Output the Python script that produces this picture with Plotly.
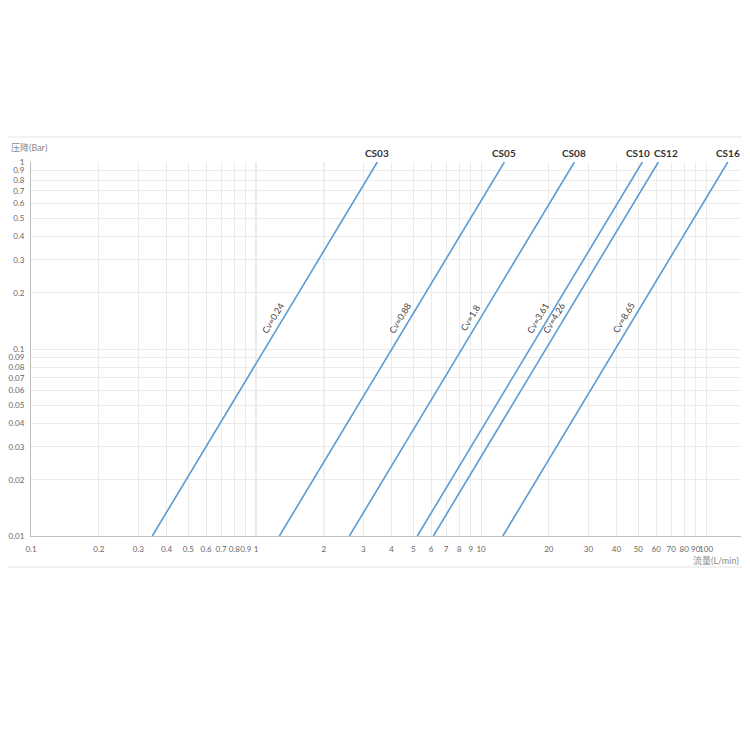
import plotly.graph_objects as go
import numpy as np

# Flow (L/min) at the two ends of each line
MODELS = ['CS03', 'CS05', 'CS08', 'CS10', 'CS12', 'CS16']
CV = ['0.24', '0.88', '1.8', '3.61', '4.26', '8.65']
DP_ENDS = [0.01, 1.0]            # pressure drop (bar)
FLOW_LOW = [0.346, 1.27, 2.60, 5.21, 6.14, 12.5]
FLOW_HIGH = [3.46, 12.7, 26.0, 52.1, 61.4, 125.0]
LABEL_DP = 0.14                  # where the Cv label sits on each line

X_TICKS = [0.1, 0.2, 0.3, 0.4, 0.5, 0.6, 0.7, 0.8, 0.9, 1, 2, 3, 4, 5, 6, 7, 8, 9,
           10, 20, 30, 40, 50, 60, 70, 80, 90, 100]
Y_TICKS = [0.01, 0.02, 0.03, 0.04, 0.05, 0.06, 0.07, 0.08, 0.09,
           0.1, 0.2, 0.3, 0.4, 0.5, 0.6, 0.7, 0.8, 0.9, 1]
X_MAJOR = [1, 10, 100]
Y_MAJOR = [0.1]

# small horizontal nudges so the crowded model names don't collide
NAME_NUDGE = {'CS10': -4, 'CS12': 8}

LINE_COLOR = '#5b9bd5'
FONT = 'Lato, Open Sans, Noto Sans CJK SC, sans-serif'

fig = go.Figure()

for name, cv, q0, q1 in zip(MODELS, CV, FLOW_LOW, FLOW_HIGH):
    fig.add_trace(go.Scatter(
        x=[q0, q1], y=DP_ENDS,
        mode='lines',
        line=dict(color=LINE_COLOR, width=1.6),
        name=name,
        hoverinfo='skip'
    ))
    # model name above the top end of the line
    fig.add_annotation(
        x=np.log10(q1), y=0, xref='x', yref='y',
        text=f'<b>{name}</b>', showarrow=False,
        xanchor='center', yanchor='bottom', yshift=1,
        xshift=NAME_NUDGE.get(name, 0),
        font=dict(size=10, color='#333333', family=FONT)
    )
    # Cv label rotated along the line
    t = (np.log10(LABEL_DP) - np.log10(DP_ENDS[0])) / (np.log10(DP_ENDS[1]) - np.log10(DP_ENDS[0]))
    lx = np.log10(q0) + t * (np.log10(q1) - np.log10(q0))
    fig.add_annotation(
        x=lx, y=np.log10(LABEL_DP), xref='x', yref='y',
        text=f'Cv={cv}', showarrow=False, textangle=-59,
        xanchor='center', yanchor='middle', xshift=-8, yshift=4,
        font=dict(size=9, color='#404040', family=FONT)
    )

# slightly darker major grid lines
for v in X_MAJOR:
    fig.add_shape(type='line', xref='x', yref='paper', x0=np.log10(v), x1=np.log10(v),
                  y0=0, y1=1, line=dict(color='#d4d4d4', width=1), layer='below')
for v in Y_MAJOR:
    fig.add_shape(type='line', xref='paper', yref='y', x0=0, x1=1,
                  y0=np.log10(v), y1=np.log10(v), line=dict(color='#d4d4d4', width=1), layer='below')

# faint frame lines above and below the chart
for yy in [1.067, -0.083]:
    fig.add_shape(type='line', xref='paper', yref='paper', x0=-0.06, x1=1.02,
                  y0=yy, y1=yy, line=dict(color='#ececec', width=1.5))

fig.add_annotation(x=0, y=1, xref='paper', yref='paper', text='压降(Bar)',
                   showarrow=False, xanchor='left', yanchor='bottom', xshift=-22, yshift=7,
                   font=dict(size=9, color='#8a8a8a', family=FONT))
fig.add_annotation(x=1, y=0, xref='paper', yref='paper', text='流量(L/min)',
                   showarrow=False, xanchor='right', yanchor='top', xshift=0, yshift=-17,
                   font=dict(size=9, color='#8a8a8a', family=FONT))

# the page adds an 8px body margin, so the margins are trimmed to compensate
fig.update_layout(
    width=750, height=750,
    paper_bgcolor='white', plot_bgcolor='white',
    showlegend=False,
    margin=dict(l=23, r=17, t=154, b=222),
    font=dict(family=FONT, size=8, color='#666666'),
    xaxis=dict(
        type='log', range=[-1, np.log10(143)], automargin=False,
        tickvals=X_TICKS, ticktext=[f'{v:g}' for v in X_TICKS], tickangle=0,
        showgrid=True, gridcolor='#ebebeb', gridwidth=1,
        zeroline=False, showline=True, linecolor='#bfbfbf', linewidth=1,
        ticks='outside', ticklen=5, tickcolor='rgba(0,0,0,0)',
        tickfont=dict(size=8, color='#666666')
    ),
    yaxis=dict(
        type='log', range=[-2, 0], automargin=False,
        tickvals=Y_TICKS, ticktext=[f'{v:g}' for v in Y_TICKS],
        showgrid=True, gridcolor='#ebebeb', gridwidth=1,
        zeroline=False, showline=True, linecolor='#bfbfbf', linewidth=1,
        ticks='outside', ticklen=4, tickcolor='rgba(0,0,0,0)',
        tickfont=dict(size=8, color='#666666')
    )
)

fig.write_html('out.html')
